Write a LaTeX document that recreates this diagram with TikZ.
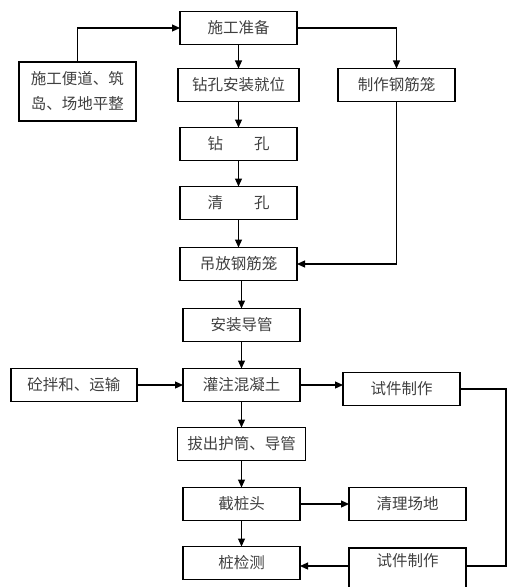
\documentclass[tikz,border=0pt]{standalone}
\usepackage{fontspec}
\newfontfamily\cjk{Noto Sans CJK SC}
\usetikzlibrary{arrows.meta,positioning}

\begin{document}
\begin{tikzpicture}[x=1bp, y=-1bp,
  font=\cjk\fontsize{15.5bp}{25bp}\selectfont,
  stepbox/.style={draw, line width=1.3bp, text=black!75, align=center, minimum width=117bp, minimum height=33bp, inner xsep=10bp, inner ysep=4bp, outer sep=0pt},
  link/.style={-{Triangle[length=8bp, width=7bp]}, line width=1.2bp},
  wire/.style={line width=1.2bp}]
\path[use as bounding box, clip] (0,0) rectangle (509,587);
% main column
\node[stepbox] (prep) at (238.5,28) {施工准备};
\node[stepbox, minimum width=121bp, below=24bp of prep] (pos) {钻孔安装就位};
\node[stepbox, below=26bp of pos] (drill) {钻\hspace{2em}孔};
\node[stepbox, below=26bp of drill] (clean) {清\hspace{2em}孔};
\node[stepbox, below=28bp of clean] (hang) {吊放钢筋笼};
\node[stepbox, below=28bp of hang, xshift=3bp] (pipe) {安装导管};
\node[stepbox, below=27bp of pipe] (pour) {灌注混凝土};
\node[stepbox, below=26bp of pour] (pull) {拔出护筒、导管};
\node[stepbox, below=27bp of pull] (cut) {截桩头};
\node[stepbox, below=26bp of cut] (test) {桩检测};
% side branches
\node[stepbox, minimum height=59bp, left=42bp of pos, yshift=-6.5bp] (road) {施工便道、筑\\岛、场地平整};
\node[stepbox, right=39bp of pos] (rebar) {制作钢筋笼};
\node[stepbox, minimum width=126bp, left=46bp of pour] (mix) {砼拌和、运输};
\node[stepbox, right=43bp of pour, yshift=-4bp] (spec) {试件制作};
\node[stepbox, right=49bp of cut] (site) {清理场地};
\node[stepbox, minimum height=0pt, text height=11bp, text depth=30bp, inner ysep=7bp, right=49bp of test.north east, anchor=north west, yshift=-1.5bp] (spec2) {试件制作};
% connectors
\draw[link] (prep) -- (pos);
\draw[link] (pos) -- (drill);
\draw[link] (drill) -- (clean);
\draw[link] (clean) -- (hang);
\draw[link] (hang.south -| pipe.north) -- (pipe.north);
\draw[link] (pipe) -- (pour);
\draw[link] (pour) -- (pull);
\draw[link] (pull) -- (cut);
\draw[link] (cut) -- (test);
\draw[link] (road.north) |- (prep.west);
\draw[link] (prep.east) -| (rebar.north);
\draw[link] (rebar.south) |- (hang.east);
\draw[link] (mix) -- (pour);
\draw[link] (pour.east) -- (pour.east -| spec.west);
\draw[link] (cut) -- (site);
\draw[wire] (spec.east) -- ++(46bp,0) |- (spec2.base east);
\draw[link] (spec2.base west) -- (spec2.base west -| test.east);
\end{tikzpicture}
\end{document}
